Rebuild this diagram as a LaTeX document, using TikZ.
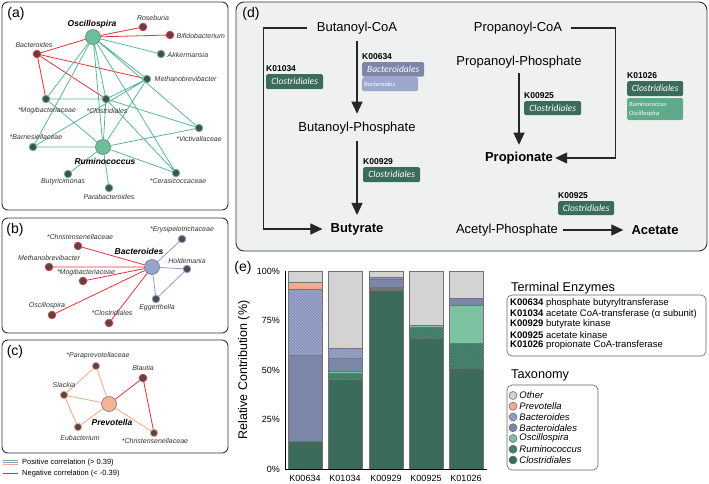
\documentclass[tikz,border=0pt]{standalone}
\usepackage{fontspec}
\setmainfont{Liberation Sans}
\newfontfamily\carlito{Carlito}
\usetikzlibrary{positioning,arrows.meta,patterns}

\definecolor{edgeteal}{HTML}{5DB597}
\definecolor{hubteal}{HTML}{6DBE9D}
\definecolor{negred}{HTML}{E8333C}
\definecolor{nodegray}{HTML}{4B4B4B}
\definecolor{edgeblue}{HTML}{8E9BCB}
\definecolor{hubblue}{HTML}{97A4D0}
\definecolor{edgesalmon}{HTML}{F4A784}
\definecolor{hubsalmon}{HTML}{F7B299}
\definecolor{panelgray}{HTML}{EFF1F0}
\definecolor{clocol}{HTML}{3A6B5B}
\definecolor{rumcol}{HTML}{4C8A71}
\definecolor{osccol}{HTML}{7CC1A0}
\definecolor{bdlcol}{HTML}{7B86A9}
\definecolor{bdscol}{HTML}{9CA7CF}
\definecolor{prvcol}{HTML}{F5A98A}
\definecolor{othcol}{HTML}{D3D3D3}
\definecolor{enzosc}{HTML}{5FAA8A}

\newcommand{\txtsize}[1]{\fontsize{#1}{#1}\selectfont}

\begin{document}
\begin{tikzpicture}[
    x=1pt, y=-1pt,
    panel/.style={draw=black!80, line width=0.9pt, rounded corners=6pt},
    taxon/.style={circle, fill=nodegray, draw=#1, line width=0.9pt, minimum size=7.5pt, inner sep=0pt},
    hub/.style={circle, fill=#1, draw=black!55, line width=0.6pt, minimum size=15pt, inner sep=0pt},
    lab/.style={font=\txtsize{7}\itshape, text=black!80, inner sep=0.5pt},
    hublab/.style={font=\txtsize{8.5}\bfseries\itshape, inner sep=0.5pt},
    poslink/.style={draw=#1, line width=0.8pt},
    neglink/.style={draw=negred, line width=0.8pt},
    letra/.style={font=\txtsize{14}, inner sep=0pt},
    metab/.style={font=\txtsize{13}, inner sep=1pt},
    prod/.style={font=\txtsize{13}\bfseries, inner sep=1pt},
    paso/.style={-{Triangle[length=12pt,width=11pt]}, line width=1.1pt, draw=black!85},
    kcode/.style={font=\txtsize{8.5}\bfseries, inner sep=0pt},
    enz/.style={fill=#1, rounded corners=1.5pt, text=white, font=\carlito\txtsize{9.5}\itshape,
        anchor=north west, minimum width=57pt, minimum height=15pt, inner sep=1pt},
    seg/.style={draw=black!55, line width=0.4pt},
    hatch/.style={postaction={pattern=north west lines, pattern color=#1}},
    ticklab/.style={font=\txtsize{9}, anchor=east, inner sep=1pt},
    legbox/.style={draw=black!60, line width=0.6pt, rounded corners=5pt},
    swatch/.style={circle, fill=#1, draw=black!60, line width=0.5pt, minimum size=8pt, inner sep=0pt},
    leglab/.style={font=\txtsize{9.5}\itshape, inner sep=1pt}
]
\useasboundingbox (0,0) rectangle (709,483);

% panel frames
\draw[panel] (2,2) rectangle (228,210);
\draw[panel] (2,218) rectangle (228,333);
\draw[panel] (2,340) rectangle (228,453);
\draw[panel, fill=panelgray, rounded corners=8pt] (236,2) rectangle (707,251);

\node[letra] (pa) at (16,14) {(a)};
\node[letra] (pb) at (15,230) {(b)};
\node[letra] (pc) at (15,352) {(c)};
\node[letra] (pd) at (251,14) {(d)};
\node[letra] (pe) at (243,268) {(e)};

% (a) Oscillospira / Ruminococcus network
\node[hub=hubteal] (osc) at (93,37) {};
\node[hub=hubteal] (rum) at (103,147) {};
\node[taxon=negred] (ros) at (143,27) {};
\node[taxon=negred] (bif) at (170,35) {};
\node[taxon=negred] (bac) at (37,54) {};
\node[taxon=edgeteal] (akk) at (161,54) {};
\node[taxon=edgeteal] (met) at (147,79) {};
\node[taxon=edgeteal] (mog) at (46,99) {};
\node[taxon=edgeteal] (clo) at (106,99) {};
\node[taxon=edgeteal] (vic) at (199,128) {};
\node[taxon=edgeteal] (bar) at (33,147) {};
\node[taxon=edgeteal] (bty) at (68,174) {};
\node[taxon=edgeteal] (cer) at (176,173) {};
\node[taxon=edgeteal] (par) at (109,188) {};

\draw[neglink] (osc) -- (ros) (osc) -- (bif) (osc) -- (bac)
    (bac) -- (met) (bac) -- (clo) (bac) -- (mog);
\draw[poslink=edgeteal] (osc) -- (akk) (osc) -- (met) (osc) -- (vic) (osc) -- (mog)
    (osc) -- (bar) (osc) -- (clo) (osc) -- (rum) (osc) -- (cer)
    (mog) -- (clo) (mog) -- (rum) (clo) -- (rum) (clo) -- (met) (clo) -- (vic) (clo) -- (cer)
    (bar) -- (rum) (bar) -- (met) (rum) -- (met) (rum) -- (vic) (rum) -- (cer)
    (rum) -- (bty) (rum) -- (par);

\node[hublab] (osc-l) at (92,24) {Oscillospira};
\node[hublab] (rum-l) at (105,161) {Ruminococcus};
\node[lab] (ros-l) at (153,18) {Roseburia};
\node[lab, anchor=west] (bif-l) at (176,36) {Bifidobacterium};
\node[lab] (bac-l) at (34,45) {Bacteroides};
\node[lab, anchor=west] (akk-l) at (167,55) {Akkermansia};
\node[lab, anchor=west] (met-l) at (154,79) {Methanobrevibacter};
\node[lab] (mog-l) at (47,111) {*Mogibacteriaceae};
\node[lab] (clo-l) at (107,111) {*Clostridiales};
\node[lab] (vic-l) at (199,139) {*Victivallaceae};
\node[lab] (bar-l) at (36,137) {*Barnesiellaceae};
\node[lab] (bty-l) at (63,182) {Butyricimonas};
\node[lab] (cer-l) at (178,181) {*Cerasicoccaceae};
\node[lab] (par-l) at (109,197) {Parabacteroides};

% (b) Bacteroides network
\node[hub=hubblue] (bct) at (152,267) {};
\node[taxon=edgeblue] (ery) at (182,239) {};
\node[taxon=edgeblue] (hol) at (187,269) {};
\node[taxon=edgeblue] (egg) at (156,299) {};
\node[taxon=negred] (chr) at (78,246) {};
\node[taxon=negred] (mtb) at (49,267) {};
\node[taxon=negred] (mgb) at (83,281) {};
\node[taxon=negred] (osp) at (52,315) {};
\node[taxon=negred] (cld) at (109,323) {};

\draw[neglink] (bct) -- (chr) (bct) -- (mtb) (bct) -- (mgb) (bct) -- (osp) (bct) -- (cld);
\draw[poslink=edgeblue] (bct) -- (ery) (bct) -- (hol) (bct) -- (egg) (hol) -- (egg);

\node[hublab] (bct-l) at (139,251) {Bacteroides};
\node[lab] (ery-l) at (182,230) {*Erysipelotrichaceae};
\node[lab] (hol-l) at (187,261) {Holdemania};
\node[lab] (egg-l) at (157,308) {Eggerthella};
\node[lab] (chr-l) at (80,237) {*Christensenellaceae};
\node[lab] (mtb-l) at (49,258) {Methanobrevibacter};
\node[lab] (mgb-l) at (86,273) {*Mogibacteriaceae};
\node[lab] (osp-l) at (47,306) {Oscillospira};
\node[lab] (cld-l) at (112,313) {*Clostridiales};

% (c) Prevotella network
\node[hub=hubsalmon] (prv) at (109,404) {};
\node[taxon=edgesalmon] (ppr) at (96,366) {};
\node[taxon=negred] (bla) at (143,378) {};
\node[taxon=edgesalmon] (sla) at (64,395) {};
\node[taxon=edgesalmon] (eub) at (78,427) {};
\node[taxon=edgesalmon] (chs) at (154,433) {};

\draw[poslink=edgesalmon] (prv) -- (ppr) (prv) -- (sla) (prv) -- (eub) (prv) -- (chs)
    (sla) -- (ppr) (sla) -- (eub);
\draw[neglink] (prv) -- (bla) (bla) -- (chs);

\node[hublab] (prv-l) at (112,422) {Prevotella};
\node[lab] (ppr-l) at (98,356) {*Paraprevotellaceae};
\node[lab] (bla-l) at (143,368) {Blautia};
\node[lab] (sla-l) at (64,385) {Slackia};
\node[lab] (eub-l) at (80,438) {Eubacterium};
\node[lab] (chs-l) at (155,441) {*Christensenellaceae};

% correlation legend
\draw[edgeteal, line width=0.8pt] (3,460) -- (18,460);
\draw[edgeblue, line width=0.8pt] (3,462.3) -- (18,462.3);
\draw[edgesalmon, line width=0.8pt] (3,464.6) -- (18,464.6);
\draw[negred, line width=0.8pt] (3,473.7) -- (18,473.7);
\node[anchor=west, font=\txtsize{7.5}, inner sep=0pt] (poscor) at (22,462.3) {Positive correlation (> 0.39)};
\node[anchor=west, font=\txtsize{7.5}, inner sep=0pt] (negcor) at (22,473.7) {Negative correlation (< -0.39)};

% (d) pathways
\node[metab] (bcoa) at (357,28) {Butanoyl-CoA};
\node[metab] (bpho) at (357,128) {Butanoyl-Phosphate};
\node[prod] (but) at (357,229) {Butyrate};
\node[metab] (pcoa) at (518,28) {Propanoyl-CoA};
\node[metab] (ppho) at (519,62) {Propanoyl-Phosphate};
\node[prod] (prop) at (519,158) {Propionate};
\node[metab] (apho) at (507,230) {Acetyl-Phosphate};
\node[prod] (ace) at (655,230) {Acetate};

\draw[paso, shorten <=6pt, shorten >=7pt] (bcoa.south) -- (bpho.north);
\draw[paso, shorten <=6pt, shorten >=7pt] (bpho.south) -- (but.north);
\draw[paso, shorten <=4pt, shorten >=6pt] (ppho.south) -- (prop.north);
\draw[paso] ([xshift=-9pt]bcoa.west) -- ++(-43,0) |- ([xshift=-7pt]but.west);
\draw[paso] ([xshift=8pt]pcoa.east) -- ++(44,0) |- ([xshift=1pt]prop.east);
\draw[paso, shorten <=4pt, shorten >=7pt] (apho.east) -- (ace.west);

\node[enz=clocol] (e1034) at (266,74) {Clostridiales};
\node[kcode, above right=2pt and 0pt of e1034.north west] (k1034) {K01034};
\node[enz=bdlcol, minimum width=62pt, minimum height=14.5pt] (e0634a) at (362,62) {Bacteroidales};
\node[enz=bdscol, minimum width=56pt, minimum height=14pt, font=\carlito\txtsize{6.5}\itshape,
    text width=52pt, align=left] (e0634b) at (362,77) {Bacteroides};
\node[kcode, above right=2pt and 0pt of e0634a.north west] (k0634) {K00634};
\node[enz=clocol] (e0929) at (363,167) {Clostridiales};
\node[kcode, above right=2pt and 0pt of e0929.north west] (k0929) {K00929};
\node[enz=clocol, minimum height=14pt] (e0925a) at (524,101) {Clostridiales};
\node[kcode, above right=2pt and 0pt of e0925a.north west] (k0925a) {K00925};
\node[enz=clocol, minimum width=56pt] (e1026a) at (627,81) {Clostridiales};
\node[enz=enzosc, minimum width=56pt, minimum height=22pt, text width=52pt, align=left,
    font=\carlito\fontsize{6.5}{9.5}\selectfont\itshape] (e1026b) at (627,98) {Ruminococcus\\Oscillospira};
\node[kcode, above right=2pt and 0pt of e1026a.north west] (k1026) {K01026};
\node[enz=clocol, minimum width=56pt, minimum height=14pt] (e0925b) at (558,201) {Clostridiales};
\node[kcode, above right=2pt and 0pt of e0925b.north west] (k0925b) {K00925};

% (e) relative contribution
\node[rotate=90, font=\txtsize{12.5}, inner sep=0pt] (ylab) at (244,370) {Relative Contribution (\%)};
\begin{scope}[shift={(0,469)}, y=1.98pt]
% K00634
\filldraw[seg, fill=clocol] (288,0) rectangle (322,14);
\filldraw[seg, fill=bdlcol] (288,14) rectangle (322,57.4);
\filldraw[seg, fill=bdscol, hatch=bdlcol] (288,57.4) rectangle (322,90.8);
\filldraw[seg, fill=prvcol] (288,90.8) rectangle (322,94.3);
\filldraw[seg, fill=othcol] (288,94.3) rectangle (322,100);
% K01034
\filldraw[seg, fill=clocol] (328,0) rectangle (362,45.6);
\filldraw[seg, fill=rumcol, hatch=clocol] (328,45.6) rectangle (362,48.2);
\filldraw[seg, fill=osccol] (328,48.2) rectangle (362,49.3);
\filldraw[seg, fill=bdlcol] (328,49.3) rectangle (362,56);
\filldraw[seg, fill=bdscol, hatch=bdlcol] (328,56) rectangle (362,61);
\filldraw[seg, fill=othcol] (328,61) rectangle (362,100);
% K00929
\filldraw[seg, fill=clocol] (369,0) rectangle (403,90.1);
\filldraw[seg, fill=rumcol] (369,90.1) rectangle (403,91.4);
\filldraw[seg, fill=osccol] (369,91.4) rectangle (403,92);
\filldraw[seg, fill=bdlcol] (369,92) rectangle (403,96);
\filldraw[seg, fill=bdscol, hatch=bdlcol] (369,96) rectangle (403,96.8);
\filldraw[seg, fill=othcol] (369,96.8) rectangle (403,100);
% K00925
\filldraw[seg, fill=clocol] (409,0) rectangle (443,66.1);
\filldraw[seg, fill=rumcol, hatch=clocol] (409,66.1) rectangle (443,71.5);
\filldraw[seg, fill=osccol] (409,71.5) rectangle (443,72.8);
\filldraw[seg, fill=othcol] (409,72.8) rectangle (443,100);
% K01026
\filldraw[seg, fill=clocol] (449,0) rectangle (483,50.8);
\filldraw[seg, fill=rumcol, hatch=clocol] (449,50.8) rectangle (483,63.4);
\filldraw[seg, fill=osccol] (449,63.4) rectangle (483,82.9);
\filldraw[seg, fill=bdlcol] (449,82.9) rectangle (483,86.2);
\filldraw[seg, fill=othcol] (449,86.2) rectangle (483,100);

\draw[line width=1pt] (285,100) -- (285,0) -- (487,0);
\node[ticklab] (y100) at (281,100) {100\%};
\node[ticklab] (y75) at (281,75) {75\%};
\node[ticklab] (y50) at (281,50) {50\%};
\node[ticklab] (y25) at (281,25) {25\%};
\node[ticklab] (y0) at (281,0) {0\%};
\node[font=\txtsize{9}] (x0634) at (305,-4.6) {K00634};
\node[font=\txtsize{9}] (x1034) at (345,-4.6) {K01034};
\node[font=\txtsize{9}] (x0929) at (386,-4.6) {K00929};
\node[font=\txtsize{9}] (x0925) at (426,-4.6) {K00925};
\node[font=\txtsize{9}] (x1026) at (466,-4.6) {K01026};
\end{scope}

% legends of (e)
\node[anchor=west, font=\txtsize{12.7}, inner sep=0pt] (enztit) at (511,288) {Terminal Enzymes};
\draw[legbox] (507,295) rectangle (706,356);
\node[anchor=west, font=\txtsize{9.5}, inner sep=0pt] (r0634) at (510,303.5) {\textbf{K00634} phosphate butyryltransferase};
\node[anchor=west, font=\txtsize{9.5}, inner sep=0pt] (r1034) at (510,314) {\textbf{K01034} acetate CoA-transferase (α subunit)};
\node[anchor=west, font=\txtsize{9.5}, inner sep=0pt] (r0929) at (510,324.5) {\textbf{K00929} butyrate kinase};
\node[anchor=west, font=\txtsize{9.5}, inner sep=0pt] (r0925) at (510,335) {\textbf{K00925} acetate kinase};
\node[anchor=west, font=\txtsize{9.5}, inner sep=0pt] (r1026) at (510,345.5) {\textbf{K01026} propionate CoA-transferase};

\node[anchor=west, font=\txtsize{12.7}, inner sep=0pt] (taxtit) at (511,375) {Taxonomy};
\draw[legbox] (507,385) rectangle (598,470);
\node[swatch=othcol] (s-oth) at (513,395.5) {};
\node[leglab, right=1pt of s-oth] (l-oth) {Other};
\node[swatch=prvcol] (s-prv) at (513,406.2) {};
\node[leglab, right=1pt of s-prv] (l-prv) {Prevotella};
\node[swatch=bdscol, hatch=bdlcol] (s-bds) at (513,417) {};
\node[leglab, right=1pt of s-bds] (l-bds) {Bacteroides};
\node[swatch=bdlcol] (s-bdl) at (513,427.7) {};
\node[leglab, right=1pt of s-bdl] (l-bdl) {Bacteroidales};
\node[swatch=osccol] (s-osc) at (513,438.5) {};
\node[leglab, right=1pt of s-osc] (l-osc) {Oscillospira};
\node[swatch=rumcol, hatch=clocol] (s-rum) at (513,449.2) {};
\node[leglab, right=1pt of s-rum] (l-rum) {Ruminococcus};
\node[swatch=clocol] (s-clo) at (513,460) {};
\node[leglab, right=1pt of s-clo] (l-clo) {Clostridiales};

\end{tikzpicture}
\end{document}
